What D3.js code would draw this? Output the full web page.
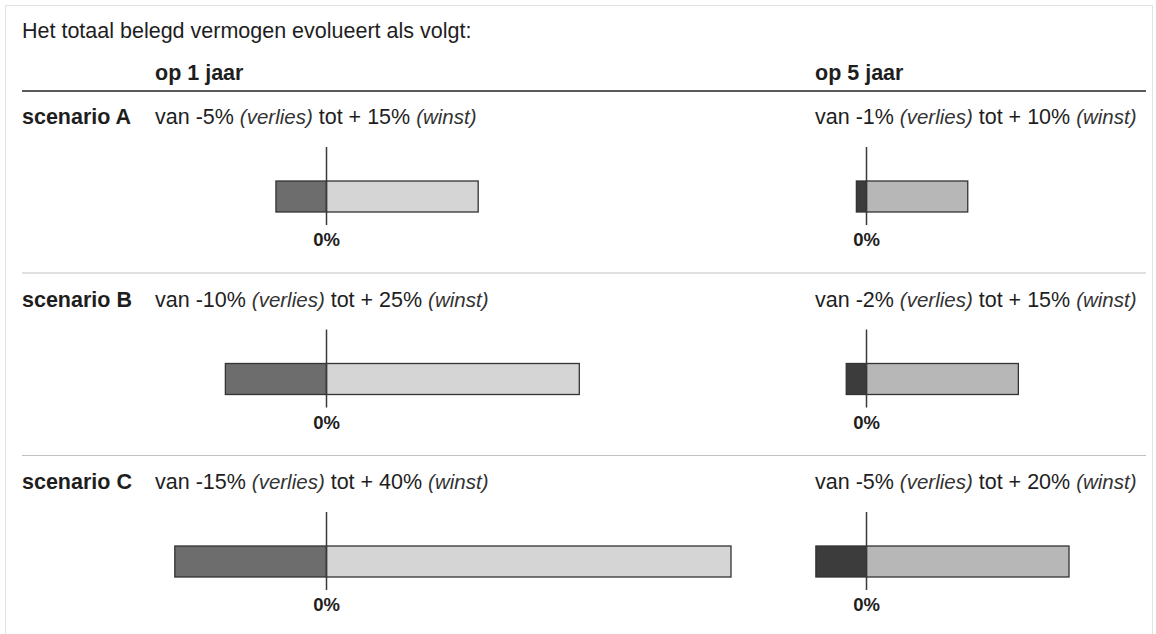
<!DOCTYPE html>
<html>
<head>
<meta charset="utf-8">
<script src="https://cdn.jsdelivr.net/npm/d3@7"></script>
<style>
html,body{margin:0;padding:0;background:#fff;}
svg{display:block;}
text{font-family:"Liberation Sans", Arial, Helvetica, sans-serif;fill:#1e1e1e;}
</style>
</head>
<body>
<svg id="chart" width="1156" height="634"></svg>
<script>
// ---- data ----
const title = "Het totaal belegd vermogen evolueert als volgt:";
const periods = ["op 1 jaar", "op 5 jaar"];
const scenarios = ["scenario A", "scenario B", "scenario C"];
const loss1 = [-5, -10, -15];
const gain1 = [15, 25, 40];
const loss5 = [-1, -2, -5];
const gain5 = [10, 15, 20];
const zeroLabel = "0%";

// ---- layout ----
const svg = d3.select("#chart");
const FS = 21.5;

// dotted frame
svg.append("rect").attr("x", 5.5).attr("y", 5.5).attr("width", 1147).attr("height", 660)
  .attr("fill", "none").attr("stroke", "#c4c4c4").attr("stroke-width", 1)
  .attr("stroke-dasharray", "1,1");

svg.append("text").attr("x", 22).attr("y", 38).attr("font-size", FS).text(title);

const colX = [155, 815];
periods.forEach((p, i) => {
  svg.append("text").attr("x", colX[i]).attr("y", 80).attr("font-size", FS)
    .attr("font-weight", "bold").text(p);
});

svg.append("line").attr("x1", 22).attr("x2", 1146).attr("y1", 91).attr("y2", 91)
  .attr("stroke", "#5a5a5a").attr("stroke-width", 2);

// scales
const rowY = d3.scaleLinear().domain([0, 1]).range([0, 182.5]);
const x1 = d3.scaleLinear().domain([0, 40]).range([326.5, 731]);
const x5 = d3.scaleLinear().domain([0, 20]).range([866.5, 1069]);

const cols = [
  {x: x1, loss: loss1, gain: gain1, negFill: "#6d6d6d", posFill: "#d5d5d5", tx: colX[0]},
  {x: x5, loss: loss5, gain: gain5, negFill: "#3c3c3c", posFill: "#b7b7b7", tx: colX[1]}
];

scenarios.forEach((s, r) => {
  const off = rowY(r);
  const g = svg.append("g").attr("transform", `translate(0,${off})`);
  g.append("text").attr("x", 22).attr("y", 124).attr("font-size", FS)
    .attr("font-weight", "bold").text(s);

  if (r > 0) {
    svg.append("line").attr("x1", 22).attr("x2", 1146)
      .attr("y1", off + 90.5).attr("y2", off + 90.5)
      .attr("stroke", "#c2c2c2").attr("stroke-width", 1.2);
  }

  cols.forEach(c => {
    const lo = c.loss[r], hi = c.gain[r];
    const t = g.append("text").attr("x", c.tx).attr("y", 124).attr("font-size", FS);
    t.append("tspan").text(`van ${lo}% `);
    t.append("tspan").attr("font-style", "italic").attr("font-size", FS - 1).attr("fill", "#333").text("(verlies)");
    t.append("tspan").text(` tot + ${hi}% `);
    t.append("tspan").attr("font-style", "italic").attr("font-size", FS - 1).attr("fill", "#333").text("(winst)");

    const by = 181, bh = 31;
    g.append("rect").attr("x", c.x(lo)).attr("y", by).attr("width", c.x(0) - c.x(lo)).attr("height", bh)
      .attr("fill", c.negFill).attr("stroke", "#333").attr("stroke-width", 1.3);
    g.append("rect").attr("x", c.x(0)).attr("y", by).attr("width", c.x(hi) - c.x(0)).attr("height", bh)
      .attr("fill", c.posFill).attr("stroke", "#333").attr("stroke-width", 1.3);
    g.append("line").attr("x1", c.x(0)).attr("x2", c.x(0)).attr("y1", by - 34).attr("y2", by + bh + 13)
      .attr("stroke", "#3a3a3a").attr("stroke-width", 1.5);
    g.append("text").attr("x", c.x(0)).attr("y", by + bh + 34).attr("font-size", 18.5)
      .attr("font-weight", "bold").attr("text-anchor", "middle").attr("fill", "#333").text(zeroLabel);
  });
});
</script>
</body>
</html>
